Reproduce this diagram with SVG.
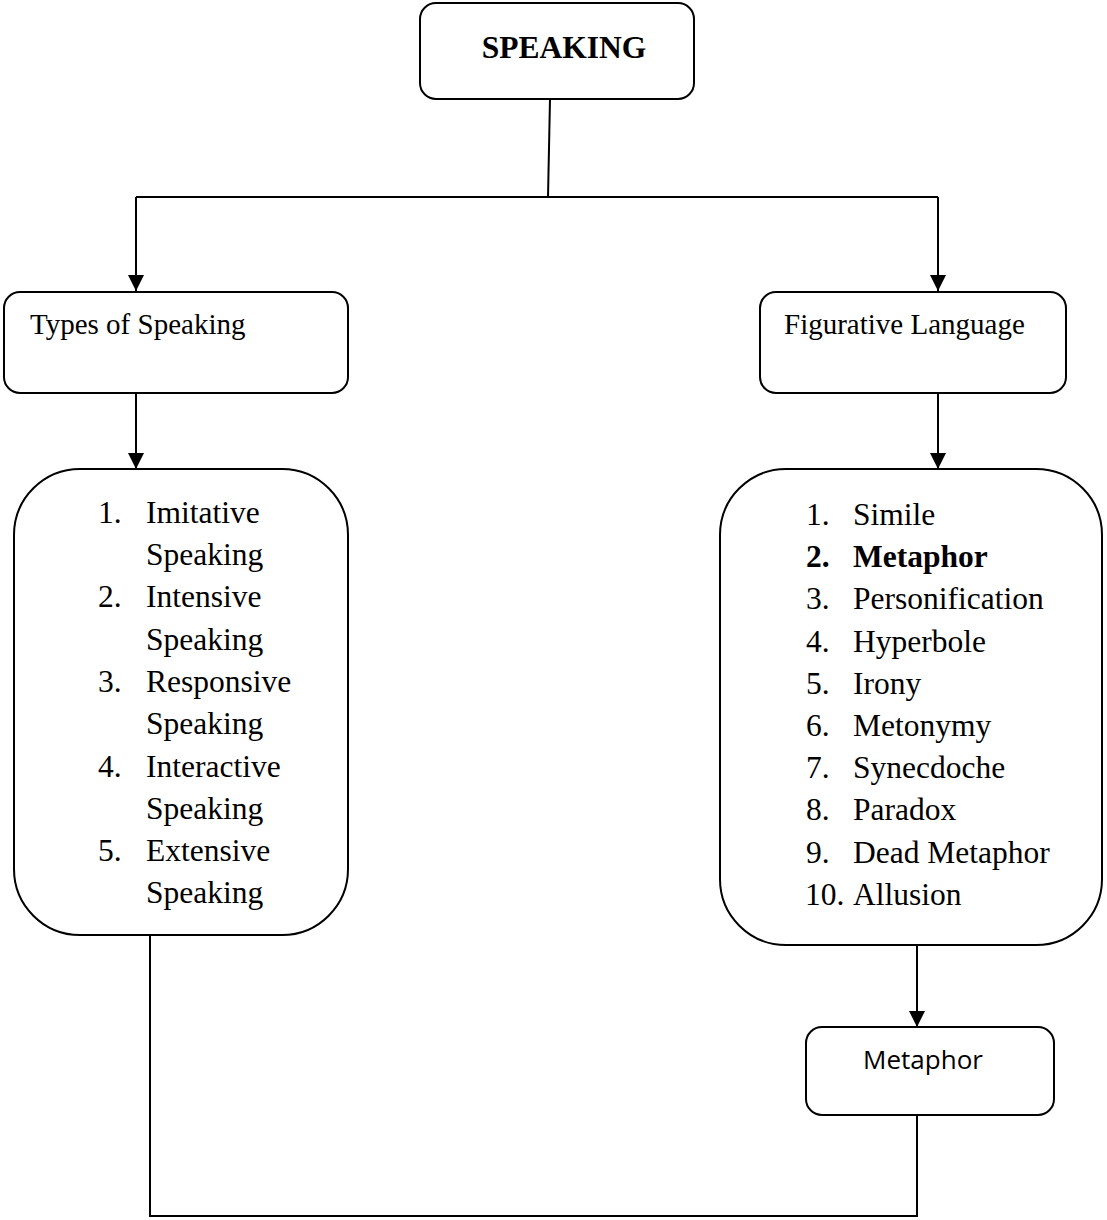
<svg xmlns="http://www.w3.org/2000/svg" width="1107" height="1220" viewBox="0 0 1107 1220">
<defs>
<marker id="arr" viewBox="0 0 16 16" refX="16" refY="8" markerWidth="16" markerHeight="16" markerUnits="userSpaceOnUse" orient="auto">
<path d="M0,0 L16,8 L0,16 Z" fill="#000"/>
</marker>
<style>
.box{fill:#fff;stroke:#000;stroke-width:2}
.ln{fill:none;stroke:#000;stroke-width:2}
.t{font-family:"Liberation Serif","Times New Roman",serif;font-size:31.5px;fill:#000}
.h{font-family:"Liberation Serif","Times New Roman",serif;font-size:29px;fill:#000}
.b{font-weight:bold}
.s{font-family:"Open Sans","Liberation Sans",sans-serif;font-size:26px;fill:#000}
</style>
</defs>
<rect width="1107" height="1220" fill="#fff"/>
<g id="connectors">
<path class="ln" d="M550,99 L548,197"/>
<path class="ln" d="M136,197 L938,197"/>
<path class="ln" d="M136,197 L136,291" marker-end="url(#arr)"/>
<path class="ln" d="M938,197 L938,291" marker-end="url(#arr)"/>
<path class="ln" d="M136,393 L136,469" marker-end="url(#arr)"/>
<path class="ln" d="M938,393 L938,469" marker-end="url(#arr)"/>
<path class="ln" d="M917,945 L917,1027" marker-end="url(#arr)"/>
<path class="ln" d="M917,1115 L917,1216 L150,1216 L150,935"/>
</g>
<g id="speaking">
<rect class="box" x="420" y="3" width="274" height="96" rx="16"/>
<text class="h b" x="564" y="58" text-anchor="middle" style="font-size:31.5px">SPEAKING</text>
</g>
<g id="types">
<rect class="box" x="4" y="292" width="344" height="101" rx="16"/>
<text class="h" x="30" y="334">Types of Speaking</text>
</g>
<g id="figurative">
<rect class="box" x="760" y="292" width="306" height="101" rx="16"/>
<text class="h" x="784" y="334">Figurative Language</text>
</g>
<g id="types-list">
<rect class="box" x="14" y="469" width="334" height="466" rx="66"/>
<text class="t" x="98" y="523">1.</text><text class="t" x="146" y="523">Imitative</text>
<text class="t" x="146" y="565">Speaking</text>
<text class="t" x="98" y="607">2.</text><text class="t" x="146" y="607">Intensive</text>
<text class="t" x="146" y="650">Speaking</text>
<text class="t" x="98" y="692">3.</text><text class="t" x="146" y="692">Responsive</text>
<text class="t" x="146" y="734">Speaking</text>
<text class="t" x="98" y="777">4.</text><text class="t" x="146" y="777">Interactive</text>
<text class="t" x="146" y="819">Speaking</text>
<text class="t" x="98" y="861">5.</text><text class="t" x="146" y="861">Extensive</text>
<text class="t" x="146" y="903">Speaking</text>
</g>
<g id="figurative-list">
<rect class="box" x="720" y="469" width="382" height="476" rx="66"/>
<text class="t" x="806" y="525">1.</text><text class="t" x="853" y="525">Simile</text>
<text class="t b" x="806" y="567">2.</text><text class="t b" x="853" y="567">Metaphor</text>
<text class="t" x="806" y="609">3.</text><text class="t" x="853" y="609">Personification</text>
<text class="t" x="806" y="652">4.</text><text class="t" x="853" y="652">Hyperbole</text>
<text class="t" x="806" y="694">5.</text><text class="t" x="853" y="694">Irony</text>
<text class="t" x="806" y="736">6.</text><text class="t" x="853" y="736">Metonymy</text>
<text class="t" x="806" y="778">7.</text><text class="t" x="853" y="778">Synecdoche</text>
<text class="t" x="806" y="820">8.</text><text class="t" x="853" y="820">Paradox</text>
<text class="t" x="806" y="863">9.</text><text class="t" x="853" y="863">Dead Metaphor</text>
<text class="t" x="805" y="905">10.</text><text class="t" x="853" y="905">Allusion</text>
</g>
<g id="metaphor">
<rect class="box" x="806" y="1027" width="248" height="88" rx="16"/>
<text class="s" x="923" y="1069" text-anchor="middle">Metaphor</text>
</g>
</svg>
